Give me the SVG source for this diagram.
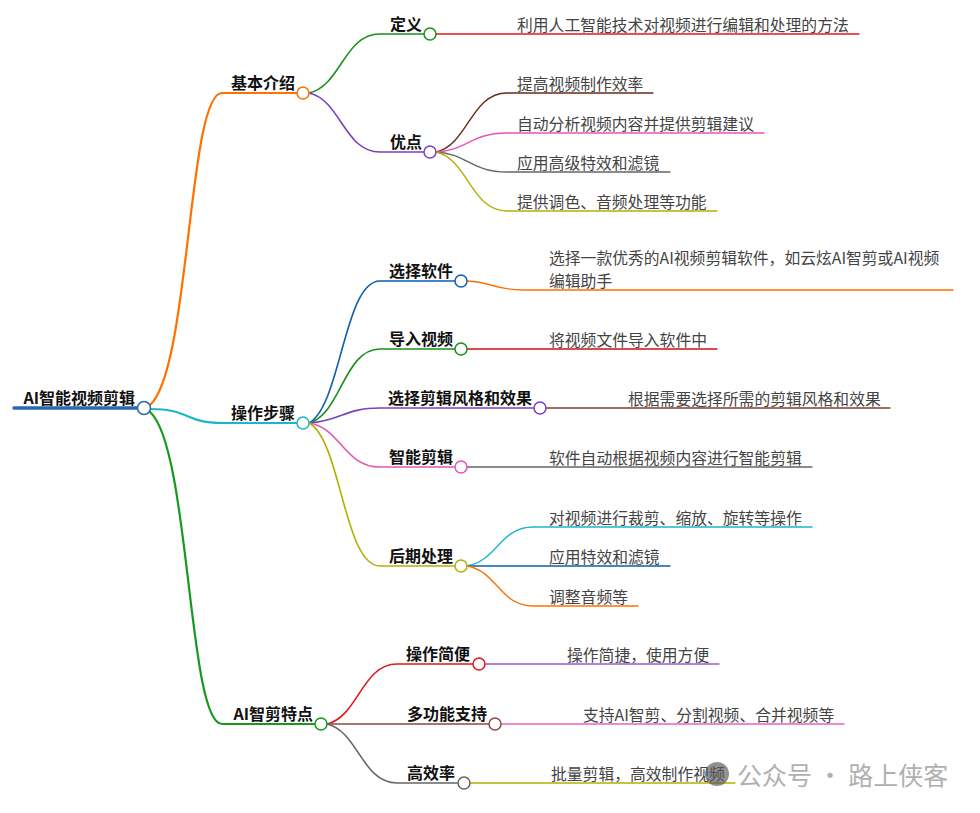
<svg xmlns="http://www.w3.org/2000/svg" width="980" height="813" viewBox="0 0 980 813">
<style>
.c{fill:none;stroke-linecap:round}
.l1{stroke-width:2.2}
.l2{stroke-width:1.6}
.lf{stroke-width:1.4}
.n{fill:#fff;stroke-width:1.5}
.lb{font-family:"Noto Sans CJK SC","Liberation Sans",sans-serif;font-size:16px;font-weight:bold;fill:#111;text-anchor:end}
.tx{font-family:"Noto Sans CJK SC","Liberation Sans",sans-serif;font-size:15.8px;fill:#444}
.wm{font-family:"Noto Sans CJK SC","Liberation Sans",sans-serif;font-size:25px;fill:#b0b0b0}
</style>
<rect width="980" height="813" fill="#fff"/>
<g id="connectors">
<path class="c" d="M14,408 H138" stroke="#2a68b0" stroke-width="3.6"/>
<path class="c l1" d="M150,405 C190,370 188,93 222,93 H297" stroke="#ff7000"/>
<path class="c l1" d="M150,409 C190,409 185,423 222,423 H297" stroke="#1ab6c8"/>
<path class="c l1" d="M150,412 C190,447 188,724 222,724 H315" stroke="#16991c"/>
<path class="c l2" d="M309,93 C341,86 344,34 380,34 H424" stroke="#1a8f1a"/>
<path class="c l2" d="M309,93 C341,100 344,152 380,152 H424" stroke="#7e3fbf"/>
<path class="c l2" d="M309,423 C341,406 344,281 380,281 H455" stroke="#0d5fb0"/>
<path class="c l2" d="M309,423 C341,414 344,349 380,349 H455" stroke="#1a8f1a"/>
<path class="c l2" d="M309,423 C341,421 344,408 380,408 H535" stroke="#7e3fbf"/>
<path class="c l2" d="M309,423 C341,428 344,467 380,467 H455" stroke="#e455b5"/>
<path class="c l2" d="M309,423 C341,440 344,566 380,566 H455" stroke="#b3b000"/>
<path class="c l2" d="M327,724 C358,717 362,664 397,664 H473" stroke="#e01818"/>
<path class="c l2" d="M327,724 H489" stroke="#8b4a3e"/>
<path class="c l2" d="M327,724 C358,731 362,783 397,783 H458" stroke="#666"/>
<path class="c lf" d="M436,34 H859" stroke="#e8131b"/>
<path class="c lf" d="M436,152 C468,145 471,93 507,93 H653" stroke="#6b2a1a"/>
<path class="c lf" d="M436,152 C468,150 471,133 507,133 H764" stroke="#e854b8"/>
<path class="c lf" d="M436,152 C468,154 471,172 507,172 H670" stroke="#666"/>
<path class="c lf" d="M436,152 C468,159 471,211 507,211 H717" stroke="#b3b000"/>
<path class="c lf" d="M467,281 C492,282 495,290 523,290 H953" stroke="#ff7000"/>
<path class="c lf" d="M467,349 H717" stroke="#d01010"/>
<path class="c lf" d="M546,408 H890" stroke="#8b3a2a"/>
<path class="c lf" d="M467,467 H812" stroke="#666"/>
<path class="c lf" d="M467,566 C497,561 500,527 533,527 H812" stroke="#1ab6c8"/>
<path class="c lf" d="M467,566 H670" stroke="#0d5fb0"/>
<path class="c lf" d="M467,566 C497,571 500,606 533,606 H638" stroke="#ff7000"/>
<path class="c lf" d="M485,664 H719" stroke="#9b59d0"/>
<path class="c lf" d="M501,724 H844" stroke="#e860c0"/>
<path class="c lf" d="M470,783 H735" stroke="#b3b000"/>
</g>
<g id="root"><text class="lb" x="135" y="404">AI智能视频剪辑</text><circle class="n" cx="144" cy="408" r="6.5" stroke="#2a68b0"/></g>
<g id="n-jbjs"><text class="lb" x="295" y="89">基本介绍</text><circle class="n" cx="303" cy="93" r="6" stroke="#ff7000"/></g>
<g id="n-czbz"><text class="lb" x="295" y="419">操作步骤</text><circle class="n" cx="303" cy="423" r="6" stroke="#1ab6c8"/></g>
<g id="n-aijt"><text class="lb" x="313" y="720">AI智剪特点</text><circle class="n" cx="321" cy="724" r="6" stroke="#16991c"/></g>
<g id="n-dy"><text class="lb" x="422" y="30">定义</text><circle class="n" cx="430" cy="34" r="6" stroke="#1a8f1a"/></g>
<g id="n-yd"><text class="lb" x="422" y="148">优点</text><circle class="n" cx="430" cy="152" r="6" stroke="#7e3fbf"/></g>
<g id="n-xzrj"><text class="lb" x="453" y="277">选择软件</text><circle class="n" cx="461" cy="281" r="6" stroke="#0d5fb0"/></g>
<g id="n-drsp"><text class="lb" x="453" y="345">导入视频</text><circle class="n" cx="461" cy="349" r="6" stroke="#1a8f1a"/></g>
<g id="n-xzfg"><text class="lb" x="532" y="404">选择剪辑风格和效果</text><circle class="n" cx="540" cy="408" r="6" stroke="#7e3fbf"/></g>
<g id="n-znjj"><text class="lb" x="453" y="463">智能剪辑</text><circle class="n" cx="461" cy="467" r="6" stroke="#e455b5"/></g>
<g id="n-hqcl"><text class="lb" x="453" y="562">后期处理</text><circle class="n" cx="461" cy="566" r="6" stroke="#b3b000"/></g>
<g id="n-czjb"><text class="lb" x="470" y="660">操作简便</text><circle class="n" cx="479" cy="664" r="6" stroke="#e01818"/></g>
<g id="n-dgn"><text class="lb" x="487" y="720">多功能支持</text><circle class="n" cx="495" cy="724" r="6" stroke="#8b4a3e"/></g>
<g id="n-gxl"><text class="lb" x="455" y="779">高效率</text><circle class="n" cx="464" cy="783" r="6" stroke="#666"/></g>
<g id="leaves">
<text class="tx" x="517" y="31">利用人工智能技术对视频进行编辑和处理的方法</text>
<text class="tx" x="517" y="90">提高视频制作效率</text>
<text class="tx" x="517" y="130">自动分析视频内容并提供剪辑建议</text>
<text class="tx" x="517" y="169">应用高级特效和滤镜</text>
<text class="tx" x="517" y="208">提供调色、音频处理等功能</text>
<text class="tx" x="549" y="264"><tspan x="549" y="264">选择一款优秀的AI视频剪辑软件，如云炫AI智剪或AI视频</tspan><tspan x="549" y="287">编辑助手</tspan></text>
<text class="tx" x="549" y="346">将视频文件导入软件中</text>
<text class="tx" x="628" y="405">根据需要选择所需的剪辑风格和效果</text>
<text class="tx" x="549" y="464">软件自动根据视频内容进行智能剪辑</text>
<text class="tx" x="549" y="524">对视频进行裁剪、缩放、旋转等操作</text>
<text class="tx" x="549" y="563">应用特效和滤镜</text>
<text class="tx" x="549" y="603">调整音频等</text>
<text class="tx" x="567" y="661">操作简捷，使用方便</text>
<text class="tx" x="583" y="721">支持AI智剪、分割视频、合并视频等</text>
<text class="tx" x="551" y="780">批量剪辑，高效制作视频</text>
</g>
<g id="watermark">
<circle cx="717" cy="774" r="12" fill="#555" opacity="0.65"/>
<text class="wm" x="737" y="785">公众号 · 路上侠客</text>
</g>
</svg>
